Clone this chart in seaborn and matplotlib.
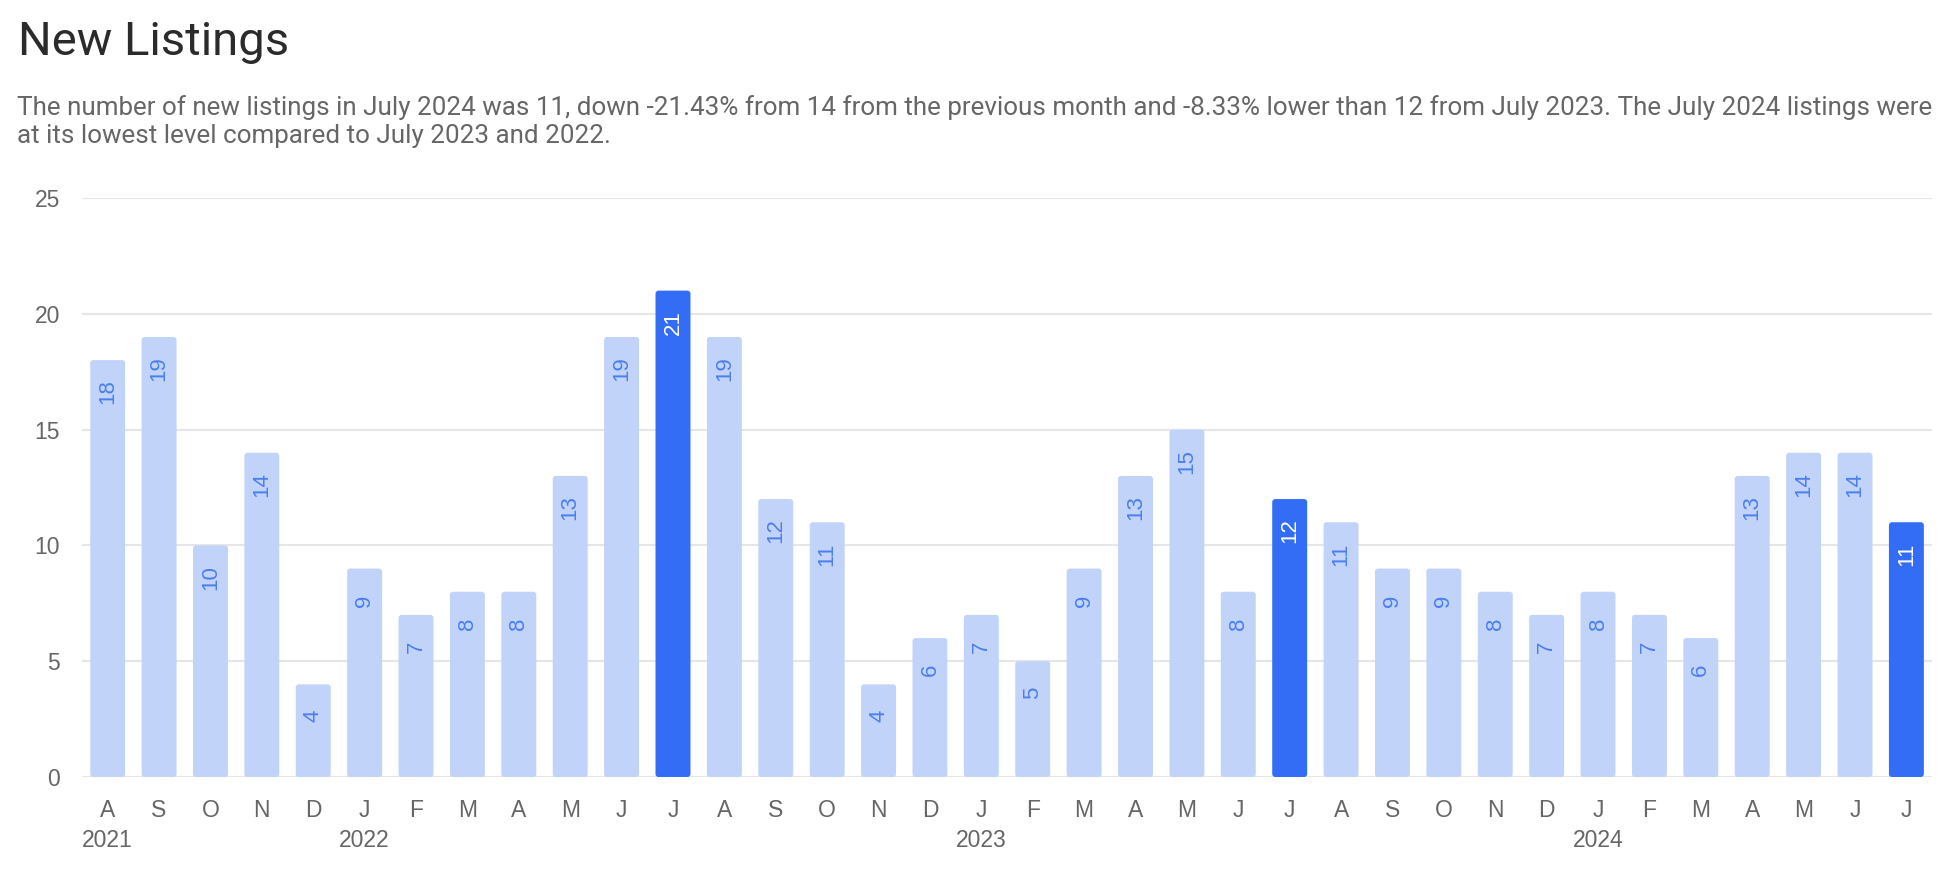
import matplotlib
matplotlib.use("Agg")
import matplotlib.pyplot as plt
from matplotlib.patches import FancyBboxPatch
import seaborn as sns
import pandas as pd

months = ["A", "S", "O", "N", "D",
          "J", "F", "M", "A", "M", "J", "J", "A", "S", "O", "N", "D",
          "J", "F", "M", "A", "M", "J", "J", "A", "S", "O", "N", "D",
          "J", "F", "M", "A", "M", "J", "J"]
years = ["2021", "", "", "", "",
         "2022", "", "", "", "", "", "", "", "", "", "", "",
         "2023", "", "", "", "", "", "", "", "", "", "", "",
         "2024", "", "", "", "", "", ""]
listings = [18, 19, 10, 14, 4,
            9, 7, 8, 8, 13, 19, 21, 19, 12, 11, 4, 6,
            7, 5, 9, 13, 15, 8, 12, 11, 9, 9, 8, 7,
            8, 7, 6, 13, 14, 14, 11]
highlight_idx = [11, 23, 35]  # July 2022, July 2023, July 2024

title = "New Listings"
subtitle = ("The number of new listings in July 2024 was 11, down -21.43% from 14 from the previous month "
            "and -8.33% lower than 12 from July 2023. The July 2024 listings were\n"
            "at its lowest level compared to July 2023 and 2022.")

LIGHT = "#C2D3FA"
DARK = "#336DF5"
LABEL_LIGHT = "#4A7FEF"

sns.set_theme(style="white")
plt.rcParams["font.family"] = ["Roboto", "DejaVu Sans"]
TICKFONT = ["Liberation Sans", "DejaVu Sans"]

ticklabels = [m + ("\n" + y if y else "") for m, y in zip(months, years)]
df = pd.DataFrame({"pos": [str(i) for i in range(len(listings))],
                   "value": listings,
                   "hl": ["hl" if i in highlight_idx else "base" for i in range(len(listings))]})

fig = plt.figure(figsize=(19.52, 8.76), dpi=100)
ax = fig.add_axes([0.042, 0.113, 0.9478, 0.661])

sns.barplot(data=df, x="pos", y="value", hue="hl", palette={"base": LIGHT, "hl": DARK},
            dodge=False, width=0.68, legend=False, ax=ax, saturation=1)

ax.set_ylim(0, 25)
ax.set_xlim(-0.5, len(listings) - 0.5)

# give the seaborn bars slightly rounded corners
for p in list(ax.patches):
    x, y = p.get_x(), p.get_y()
    w, h = p.get_width(), p.get_height()
    if h <= 0:
        continue
    rb = FancyBboxPatch((x, y), w, h, boxstyle="round,pad=0,rounding_size=0.06",
                        mutation_aspect=2.2, facecolor=p.get_facecolor(),
                        edgecolor="none", zorder=p.get_zorder())
    p.set_visible(False)
    ax.add_patch(rb)

ax.set_yticks([0, 5, 10, 15, 20, 25])
ax.set_xticks(range(len(listings)))
ax.set_xticklabels(ticklabels, linespacing=1.4, family=TICKFONT)
ax.set_xlabel("")
ax.set_ylabel("")
ax.yaxis.grid(True, color="#E6E6E6", linewidth=1.5)
ax.set_axisbelow(True)
for s in ["top", "right", "left", "bottom"]:
    ax.spines[s].set_visible(False)
ax.tick_params(axis="both", length=0, labelsize=16.5, labelcolor="#666666")
ax.tick_params(axis="x", pad=16)
ax.tick_params(axis="y", pad=16)
for t in ax.get_yticklabels():
    t.set_family(TICKFONT)

for i, v in enumerate(listings):
    col = "white" if i in highlight_idx else LABEL_LIGHT
    ax.annotate(str(v), xy=(i, v), xytext=(0, -23), textcoords="offset points",
                rotation=90, ha="center", va="center", fontsize=16, color=col,
                family=TICKFONT)

fig.text(0.0092, 0.937, title, fontsize=34, color="#2b2b2b", va="baseline", ha="left")
fig.text(0.0087, 0.837, subtitle, fontsize=18.7, color="#666666", va="baseline", ha="left",
         linespacing=1.2)

fig.savefig("out.png", dpi=100)
